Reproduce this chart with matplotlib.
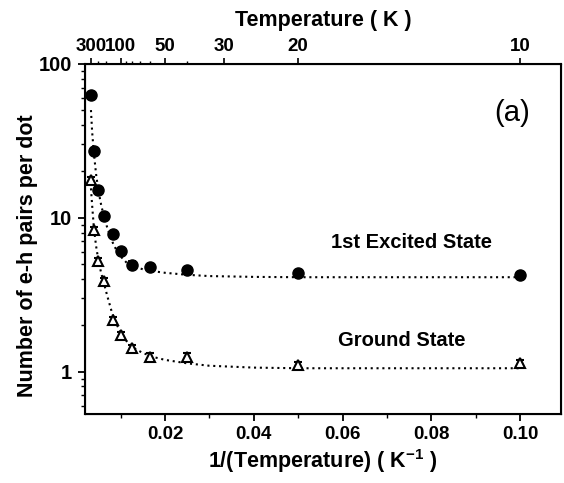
import numpy as np
import matplotlib
matplotlib.use("Agg")
import matplotlib.pyplot as plt

plt.rcParams['font.family'] = ['Liberation Sans', 'DejaVu Sans']
plt.rcParams['font.weight'] = 'bold'
plt.rcParams['axes.labelweight'] = 'bold'
plt.rcParams['mathtext.fontset'] = 'custom'
plt.rcParams['mathtext.rm'] = 'Liberation Sans:bold'
plt.rcParams['mathtext.default'] = 'rm'

# measured points, x = 1/T (K^-1)
inv_T = [1/300, 1/250, 1/200, 1/160, 1/120, 1/100, 1/80, 1/60, 1/40, 1/20, 1/10]
excited = [63.0, 27.3, 15.2, 10.2, 7.86, 6.09, 4.94, 4.77, 4.58, 4.36, 4.25]
excited_err = [2.5, 1.2, 0.7, 0.45, 0.35, 0.3, 0.25, 0.22, 0.2, 0.2, 0.2]
ground = [17.5, 8.34, 5.19, 3.85, 2.15, 1.73, 1.42, 1.25, 1.25, 1.105, 1.13]
ground_err = [0.8, 0.4, 0.25, 0.18, 0.1, 0.08, 0.07, 0.06, 0.06, 0.05, 0.05]

# dotted fit curves
fit_x = [0.00333, 0.0036, 0.004, 0.0045, 0.005, 0.0056, 0.0062, 0.007, 0.008,
         0.009, 0.010, 0.0115, 0.013, 0.015, 0.0175, 0.020, 0.025, 0.030,
         0.040, 0.050, 0.070, 0.100]
fit_excited = [50, 36, 26, 19, 15, 12.2, 10.3, 8.6, 7.1, 6.2, 5.6, 5.05, 4.8,
               4.62, 4.48, 4.38, 4.25, 4.17, 4.12, 4.1, 4.1, 4.1]
fit_ground = [15.5, 12, 8.5, 6.5, 5.3, 4.4, 3.8, 3.1, 2.45, 2.05, 1.8, 1.55,
              1.42, 1.32, 1.24, 1.19, 1.13, 1.09, 1.06, 1.05, 1.05, 1.05]

# top axis temperatures
T_major = [300, 100, 50, 30, 20, 10]
T_labels = ["300", "100", "50", "30", "20", "10"]
T_minor = [200, 150, 90, 80, 70, 60, 40]

fig = plt.figure(figsize=(5.64, 4.83), dpi=100)
ax = fig.add_axes([0.150, 0.143, 0.845, 0.725])

ax.plot(fit_x, fit_excited, ls=(0, (1, 1.8)), lw=1.5, c="black")
ax.plot(fit_x, fit_ground, ls=(0, (1, 1.8)), lw=1.5, c="black")
ax.errorbar(inv_T, excited, yerr=excited_err, fmt="o", ms=8, c="black",
            mfc="black", capsize=3, elinewidth=1, capthick=1.3)
ax.errorbar(inv_T, ground, yerr=ground_err, fmt="^", ms=7.5, c="black",
            mfc="white", mew=1.5, capsize=3, elinewidth=1, capthick=1.3)

ax.set_yscale("log")
ax.set_xlim(0.0019, 0.1092)
ax.set_ylim(0.53, 100)
ax.set_xticks([0.02, 0.04, 0.06, 0.08, 0.10])
ax.set_xticklabels(["0.02", "0.04", "0.06", "0.08", "0.10"])
ax.set_xticks([0.01, 0.03, 0.05, 0.07, 0.09], minor=True)
ax.set_yticks([1, 10, 100])
ax.set_yticklabels(["1", "10", "100"])
ax.tick_params(which="major", length=5, width=1.3, labelsize=13.5, pad=4)
ax.tick_params(axis="y", which="major", labelsize=14.5)
ax.tick_params(which="minor", length=3, width=1.0)
for s in ax.spines.values():
    s.set_linewidth(1.5)

ax.set_xlabel("1/(Temperature) ( K$^{-1}$ )", fontsize=15.5, labelpad=3)
ax.set_ylabel("Number of e-h pairs per dot", fontsize=15.5)
ax.yaxis.set_label_coords(-0.097, 0.451)

ax2 = ax.twiny()
ax2.set_xlim(ax.get_xlim())
ax2.set_xticks([1 / t for t in T_major])
ax2.set_xticklabels(T_labels)
ax2.set_xticks([1 / t for t in T_minor], minor=True)
ax2.tick_params(which="major", length=4, width=1.2, labelsize=13.5, pad=2)
ax2.tick_params(which="minor", length=2.5, width=1.0)
ax2.set_xlabel("Temperature ( K )", fontsize=15.5, labelpad=9)

ax.text(0.0982, 48, "(a)", fontsize=21, fontweight="normal", ha="center", va="center")
ax.text(0.0754, 6.87, "1st Excited State", fontsize=14.5, ha="center", va="center")
ax.text(0.0734, 1.58, "Ground State", fontsize=14.5, ha="center", va="center")

fig.savefig("out.png", dpi=100)
